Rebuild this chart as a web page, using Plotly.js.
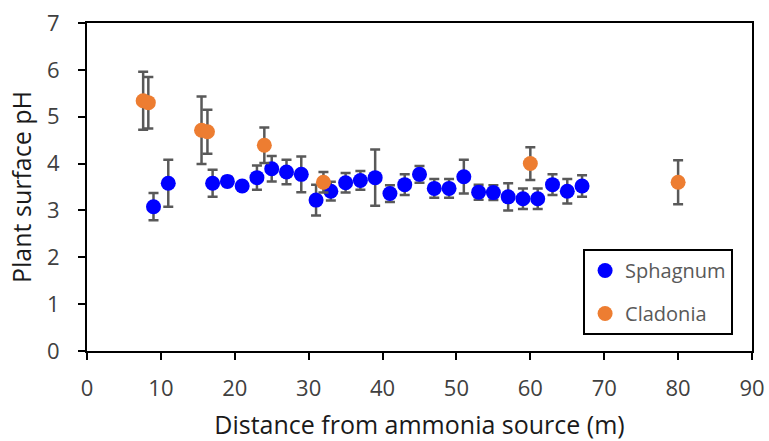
<!DOCTYPE html>
<html>
<head>
<meta charset="utf-8">
<script src="https://cdn.plot.ly/plotly-3.0.1.min.js"></script>
<style>html,body{margin:0;padding:0;background:#fff;}#chart{width:769px;height:441px;}</style>
</head>
<body>
<div id="chart"></div>
<script>
const sphagnumX = [9, 11, 17, 19, 21, 23, 25, 27, 29, 31, 33, 35, 37, 39, 41, 43, 45, 47, 49, 51, 53, 55, 57, 59, 61, 63, 65, 67];
const sphagnumY = [3.08, 3.58, 3.58, 3.62, 3.52, 3.70, 3.89, 3.82, 3.77, 3.22, 3.41, 3.59, 3.64, 3.70, 3.36, 3.55, 3.77, 3.47, 3.47, 3.72, 3.39, 3.38, 3.29, 3.25, 3.25, 3.55, 3.41, 3.52];
const sphagnumErr = [0.29, 0.50, 0.29, 0.10, 0.08, 0.26, 0.27, 0.26, 0.38, 0.33, 0.20, 0.21, 0.20, 0.60, 0.18, 0.22, 0.18, 0.20, 0.20, 0.36, 0.16, 0.16, 0.29, 0.22, 0.22, 0.22, 0.26, 0.23];

const cladoniaX = [7.6, 8.3, 15.5, 16.3, 24, 32, 60, 80];
const cladoniaY = [5.34, 5.30, 4.71, 4.68, 4.39, 3.60, 4.00, 3.60];
const cladoniaErr = [0.62, 0.55, 0.72, 0.47, 0.38, 0.22, 0.35, 0.47];

const errStyle = {type: 'data', visible: true, color: '#595959', thickness: 2.5, width: 5};

const traces = [
  {
    x: sphagnumX, y: sphagnumY, name: 'Sphagnum', type: 'scatter', mode: 'markers',
    marker: {color: '#0000ff', size: 15},
    error_y: Object.assign({array: sphagnumErr}, errStyle),
    legendgroup: 'a'
  },
  {
    x: cladoniaX, y: cladoniaY, name: 'Cladonia', type: 'scatter', mode: 'markers',
    marker: {color: '#ed7d31', size: 15},
    error_y: Object.assign({array: cladoniaErr}, errStyle),
    legendgroup: 'b'
  }
];

const fam = '"Open Sans", "Liberation Sans", sans-serif';

const layout = {
  width: 769, height: 441,
  margin: {l: 87, r: 17, t: 23, b: 90},
  paper_bgcolor: '#ffffff', plot_bgcolor: '#ffffff',
  font: {family: fam, size: 20, color: '#404040'},
  showlegend: true,
  legend: {
    x: 0.746, y: 0.311, xanchor: 'left', yanchor: 'top',
    bordercolor: '#000000', borderwidth: 2, bgcolor: '#ffffff',
    font: {family: fam, size: 20, color: '#595959'},
    tracegroupgap: 14, itemwidth: 30
  },
  xaxis: {
    range: [0, 90], tickvals: [0, 10, 20, 30, 40, 50, 60, 70, 80, 90],
    showline: true, linecolor: '#000000', linewidth: 2, mirror: true,
    ticks: 'outside', ticklen: 7, tickwidth: 2, tickcolor: '#000000',
    showgrid: false, zeroline: false,
    ticklabelstandoff: 10,
    tickfont: {family: fam, size: 22, color: '#404040'},
    title: {text: 'Distance from ammonia source (m)', font: {family: fam, size: 25, color: '#1a1a1a'}, standoff: 18}
  },
  yaxis: {
    range: [0, 7], tickvals: [0, 1, 2, 3, 4, 5, 6, 7],
    showline: true, linecolor: '#000000', linewidth: 2, mirror: true,
    ticks: 'outside', ticklen: 7, tickwidth: 2, tickcolor: '#000000',
    showgrid: false, zeroline: false,
    ticklabelstandoff: 14,
    tickfont: {family: fam, size: 22, color: '#404040'},
    title: {text: 'Plant surface pH', font: {family: fam, size: 25, color: '#1a1a1a'}, standoff: 8}
  }
};

Plotly.newPlot('chart', traces, layout, {displayModeBar: false, staticPlot: true});
</script>
</body>
</html>
